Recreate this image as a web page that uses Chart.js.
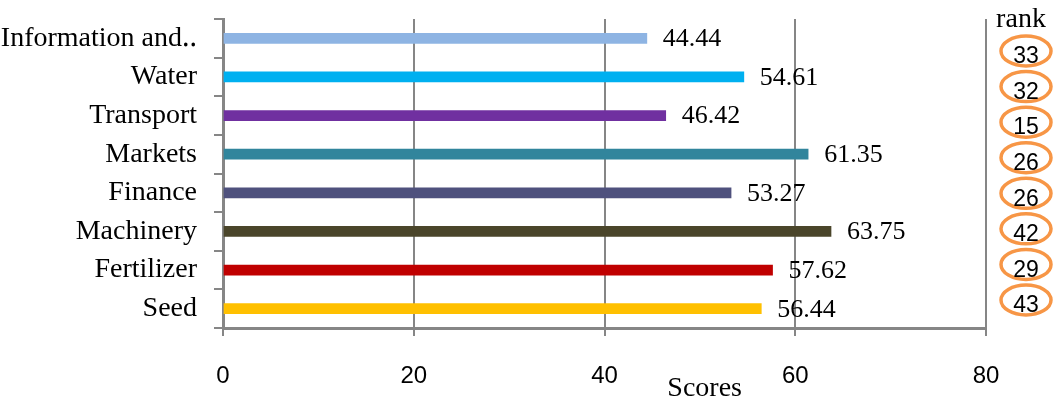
<!DOCTYPE html>
<html>
<head>
<meta charset="utf-8">
<script src="https://cdn.jsdelivr.net/npm/chart.js@4/dist/chart.umd.min.js"></script>
<style>
  html, body { margin: 0; padding: 0; background: #fff; }
  #wrap { width: 1054px; height: 398px; }
</style>
</head>
<body>
<div id="wrap"><canvas id="chart" width="1054" height="398"></canvas></div>
<script>
const categories = ["Information and‥", "Water", "Transport", "Markets", "Finance", "Machinery", "Fertilizer", "Seed"];
const scores = [44.44, 54.61, 46.42, 61.35, 53.27, 63.75, 57.62, 56.44];
const ranks = [33, 32, 15, 26, 26, 42, 29, 43];
const barColors = ["#8eb4e3", "#00b0f0", "#7030a0", "#31859c", "#4f517d", "#4a452a", "#c00000", "#ffc000"];
const xTicks = [0, 20, 40, 60, 80];

const SERIF = '"Liberation Serif", "Times New Roman", serif';
const SANS = '"Liberation Sans", Arial, sans-serif';
const GRID = "#868686";

// value labels, "Scores" title and the rank column
const extras = {
    id: "extras",
    afterDatasetsDraw(chart) {
        const ctx = chart.ctx;
        const meta = chart.getDatasetMeta(0);
        const area = chart.chartArea;
        const x = chart.scales.x;

        ctx.save();
        ctx.fillStyle = "#000";
        ctx.font = "26px " + SERIF;
        ctx.textAlign = "left";
        ctx.textBaseline = "middle";
        meta.data.forEach((bar, i) => {
            ctx.fillText(scores[i].toFixed(2), bar.x + 16, bar.y + 1);
        });

        // axis title sits off-centre in the original
        ctx.font = "28px " + SERIF;
        ctx.textAlign = "center";
        ctx.textBaseline = "alphabetic";
        ctx.fillText("Scores", x.getPixelForValue(50.5), 396);

        // rank column
        const cx = area.right + 40;
        ctx.font = "28px " + SERIF;
        ctx.fillText("rank", cx - 5, 27);

        const step = (area.height - 60) / (ranks.length - 1);
        ranks.forEach((r, i) => {
            const cy = area.top + 32 + i * step;
            ctx.strokeStyle = "#f79646";
            ctx.lineWidth = 3.5;
            ctx.beginPath();
            ctx.ellipse(cx, cy, 25, 15, 0, 0, Math.PI * 2);
            ctx.stroke();
            ctx.fillStyle = "#000";
            ctx.font = "23px " + SANS;
            ctx.textAlign = "center";
            ctx.textBaseline = "middle";
            ctx.fillText(String(r), cx, cy + 6);
        });
        ctx.restore();
    }
};

new Chart(document.getElementById("chart"), {
    type: "bar",
    data: {
        labels: categories,
        datasets: [{
            data: scores,
            backgroundColor: barColors,
            borderWidth: 0,
            barThickness: 10
        }]
    },
    options: {
        indexAxis: "y",
        responsive: false,
        animation: false,
        layout: { padding: { top: 19, right: 68, bottom: 0, left: 0 } },
        plugins: {
            legend: { display: false },
            tooltip: { enabled: false }
        },
        scales: {
            x: {
                min: 0,
                max: 80,
                afterBuildTicks: (scale) => {
                    scale.ticks = xTicks.map(v => ({ value: v }));
                },
                afterFit: (scale) => {
                    scale.height = 70;
                    scale.paddingLeft = 0;
                    scale.paddingRight = 0;
                },
                grid: {
                    color: GRID,
                    lineWidth: 2,
                    tickLength: 8,
                    drawTicks: true
                },
                border: { display: true, color: GRID, width: 3 },
                ticks: {
                    color: "#000",
                    padding: 26,
                    maxRotation: 0,
                    font: { family: SANS, size: 24 }
                }
            },
            y: {
                afterFit: (scale) => {
                    scale.width = 223;
                    scale.paddingTop = 0;
                    scale.paddingBottom = 0;
                },
                grid: {
                    offset: true,
                    drawOnChartArea: false,
                    color: GRID,
                    lineWidth: 2,
                    tickLength: 9
                },
                border: { display: true, color: GRID, width: 3 },
                ticks: {
                    color: "#000",
                    padding: 17,
                    autoSkip: false,
                    font: { family: SERIF, size: 28 }
                }
            }
        }
    },
    plugins: [extras]
});
</script>
</body>
</html>
